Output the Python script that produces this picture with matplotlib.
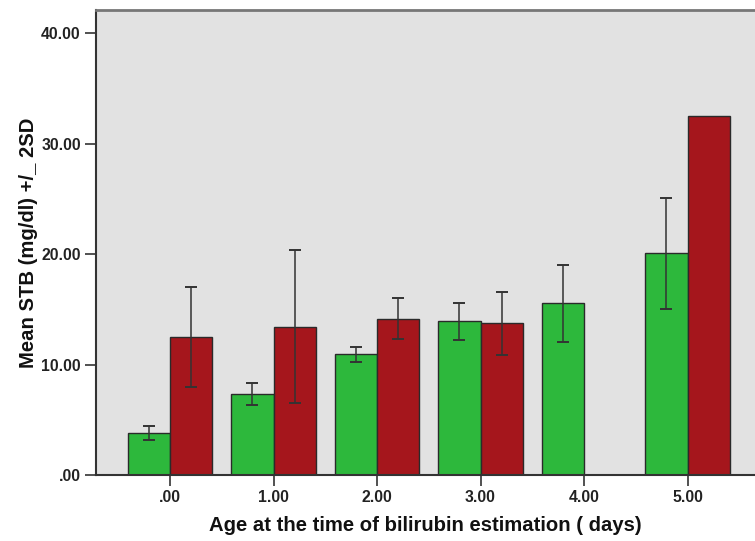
import matplotlib
matplotlib.use("Agg")
import matplotlib.pyplot as plt
import numpy as np

plt.rcParams['font.family'] = ['Liberation Sans', 'DejaVu Sans']

# data
ages = [0.0, 1.0, 2.0, 3.0, 4.0, 5.0]
tick_labels = ['.00', '1.00', '2.00', '3.00', '4.00', '5.00']

green_mean = [3.83, 7.30, 10.92, 13.94, 15.60, 20.06]
green_low = [3.17, 6.33, 10.26, 12.22, 12.07, 15.02]
green_high = [4.46, 8.30, 11.56, 15.58, 19.02, 25.04]

# no red bar at 4.00, no error bar at 5.00
red_mean = [12.52, 13.42, 14.12, 13.73, np.nan, 32.50]
red_low = [8.00, 6.49, 12.28, 10.86, np.nan, np.nan]
red_high = [17.04, 20.36, 16.05, 16.53, np.nan, np.nan]

green = '#2db83c'
red = '#a5161c'
edge = '#2a2a2a'
bar_w = 0.41

fig = plt.figure(figsize=(7.55, 5.41), dpi=100)
ax = fig.add_axes([0.1272, 0.122, 0.8728, 0.8595])
ax.set_facecolor('#e2e2e2')

x = np.array(ages)
gm = np.array(green_mean)
rm = np.array(red_mean)

ax.bar(x - bar_w / 2, gm, width=bar_w, color=green, edgecolor=edge, linewidth=1.0, zorder=2)
ok = ~np.isnan(rm)
ax.bar(x[ok] + bar_w / 2, rm[ok], width=bar_w, color=red, edgecolor=edge, linewidth=1.0, zorder=2)

# error bars
gerr = [gm - np.array(green_low), np.array(green_high) - gm]
ax.errorbar(x - bar_w / 2, gm, yerr=gerr, fmt='none', ecolor='#333333',
            elinewidth=1.1, capsize=4.5, capthick=1.4, zorder=3)
rok = ~np.isnan(np.array(red_low))
rl = np.array(red_low)[rok]
rh = np.array(red_high)[rok]
ax.errorbar(x[rok] + bar_w / 2, rm[rok], yerr=[rm[rok] - rl, rh - rm[rok]], fmt='none',
            ecolor='#333333', elinewidth=1.1, capsize=4.5, capthick=1.4, zorder=3)

ax.set_xlim(-0.715, 5.652)
ax.set_ylim(0, 42.1)
ax.set_xticks(x)
ax.set_xticklabels(tick_labels)
ax.set_yticks([0, 10, 20, 30, 40])
ax.set_yticklabels(['.00', '10.00', '20.00', '30.00', '40.00'])

ax.tick_params(axis='both', direction='out', length=8, width=1.2, color='#333333',
               labelsize=11.3, labelcolor='#222222', pad=3)
for lab in ax.get_xticklabels() + ax.get_yticklabels():
    lab.set_fontweight('bold')

ax.spines['right'].set_visible(False)
ax.spines['top'].set_color('#777777')
ax.spines['top'].set_linewidth(2.0)
ax.spines['left'].set_color('#333333')
ax.spines['left'].set_linewidth(1.5)
ax.spines['bottom'].set_color('#333333')
ax.spines['bottom'].set_linewidth(1.5)

ax.set_xlabel('Age at the time of bilirubin estimation ( days)', fontsize=14.6,
              fontweight='bold', color='#111111', labelpad=8)
ax.set_ylabel('Mean STB (mg/dl) +/_ 2SD', fontsize=14.6, fontweight='bold',
              color='#111111', labelpad=2)

fig.savefig('out.png', dpi=100)
